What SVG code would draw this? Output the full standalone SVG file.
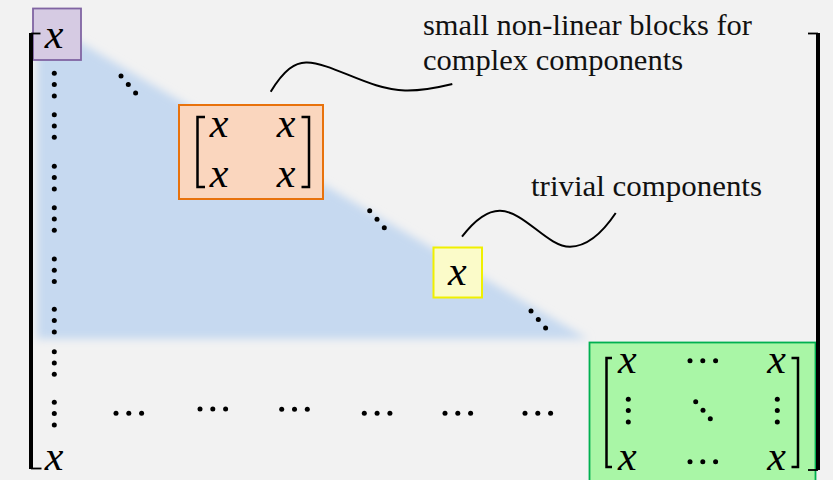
<svg xmlns="http://www.w3.org/2000/svg" width="833" height="480" viewBox="0 0 833 480">
<style>
.mx{font-family:"Liberation Serif","DejaVu Serif",serif;font-style:italic;font-size:42px;fill:#000;text-anchor:middle}
.lbl{font-family:"Liberation Serif","DejaVu Serif",serif;font-size:30px;fill:#111}
.dot{fill:#000}
.br{fill:none;stroke:#000;stroke-width:2.5}
.big{fill:none;stroke:#000;stroke-width:4}
.tick{fill:none;stroke:#000;stroke-width:1.8}
.lead{fill:none;stroke:#000;stroke-width:2}
</style>
<defs>
<filter id="blur" x="-10%" y="-10%" width="120%" height="120%"><feGaussianBlur stdDeviation="4"/></filter>
<g id="vd"><circle cx="0" cy="0" r="2.5"/><circle cx="0" cy="11.3" r="2.5"/><circle cx="0" cy="22.6" r="2.5"/></g>
<g id="hd"><circle cx="0" cy="0" r="2.5"/><circle cx="12.8" cy="0" r="2.5"/><circle cx="25.6" cy="0" r="2.5"/></g>
<g id="dd"><circle cx="0" cy="0" r="2.5"/><circle cx="7.3" cy="8.5" r="2.5"/><circle cx="14.6" cy="17" r="2.5"/></g>
</defs>
<rect width="833" height="480" fill="#f2f2f2"/>
<polygon points="37,40 76,40 588,339 37,339" fill="#c6d9f0" filter="url(#blur)"/>

<g id="connectors">
<path class="lead" d="M270.7,91.7 C284,70 295,62 307,62.5 C332,63 370,90 405,90.5 C425,91 440,87 452.3,84"/>
<path class="lead" d="M462,236.7 C474,221 487,210.5 500,210.7 C525,211.5 547,246.7 570,246.7 C590,246.5 605,229 615.7,213"/>
</g>

<g id="node-purple">
<rect x="33" y="8.5" width="48" height="51.5" fill="#d6cbe3" stroke="#8064a2" stroke-width="1.8"/>
<text class="mx" x="54" y="48">x</text>
</g>

<g id="node-orange">
<rect x="179" y="105" width="144" height="94" fill="#fad6be" stroke="#e8720c" stroke-width="2"/>
<path class="br" d="M205,117 H197.5 V187 H205"/>
<path class="br" d="M301.5,117 H309 V187 H301.5"/>
<text class="mx" x="219" y="137">x</text>
<text class="mx" x="286" y="137">x</text>
<text class="mx" x="219" y="187">x</text>
<text class="mx" x="286" y="187">x</text>
</g>

<g id="node-yellow">
<rect x="433.5" y="247.5" width="48.5" height="50" fill="#fbfbc9" stroke="#f0f000" stroke-width="2"/>
<text class="mx" x="457.3" y="285">x</text>
</g>

<g id="node-green">
<rect x="589.5" y="342.5" width="226" height="145" fill="#a9f6a6" stroke="#00b050" stroke-width="1.8"/>
<path class="br" d="M612,358 H606.5 V467 H612"/>
<path class="br" d="M791.5,358 H798 V467 H791.5"/>
<text class="mx" x="627.3" y="373">x</text>
<text class="mx" x="776.7" y="373">x</text>
<text class="mx" x="627.3" y="470">x</text>
<text class="mx" x="776.7" y="470">x</text>
<use href="#hd" x="690" y="360.7" class="dot"/>
<use href="#hd" x="690" y="461.7" class="dot"/>
<use href="#vd" x="628.3" y="399.3" class="dot"/>
<use href="#vd" x="777.3" y="399.3" class="dot"/>
<use href="#dd" x="695.7" y="401.7" class="dot"/>
</g>

<g id="labels">
<text class="lbl" x="423" y="35" textLength="329" lengthAdjust="spacingAndGlyphs">small non-linear blocks for</text>
<text class="lbl" x="423" y="70" textLength="260" lengthAdjust="spacingAndGlyphs">complex components</text>
<text class="lbl" x="531" y="196" textLength="231" lengthAdjust="spacingAndGlyphs">trivial components</text>
</g>

<g id="matrix-dots" class="dot">
<use href="#vd" x="54.3" y="73.3"/>
<use href="#vd" x="54.3" y="114.7"/>
<use href="#vd" x="54.3" y="166.3"/>
<use href="#vd" x="54.3" y="207.7"/>
<use href="#vd" x="54.3" y="259"/>
<use href="#vd" x="54.3" y="309.3"/>
<use href="#vd" x="54.3" y="351.7"/>
<use href="#vd" x="54.3" y="402.3"/>
<use href="#dd" x="121" y="76"/>
<use href="#dd" x="369.7" y="210.7"/>
<use href="#dd" x="531" y="311"/>
<use href="#hd" x="116" y="413.3"/>
<use href="#hd" x="200" y="409"/>
<use href="#hd" x="281.7" y="409.3"/>
<use href="#hd" x="364.3" y="413.3"/>
<use href="#hd" x="445" y="413.3"/>
<use href="#hd" x="525" y="413.3"/>
</g>

<text class="mx" x="54" y="470">x</text>

<g id="outer-brackets">
<path class="big" d="M31,33 V469"/>
<path class="tick" d="M31,33.5 H40.5"/>
<path class="tick" d="M31,468.5 H41.5"/>
<path class="big" d="M818,33 V470"/>
<path class="tick" d="M808,33.5 H818"/>
<path class="tick" d="M808,470 H818"/>
</g>
</svg>
